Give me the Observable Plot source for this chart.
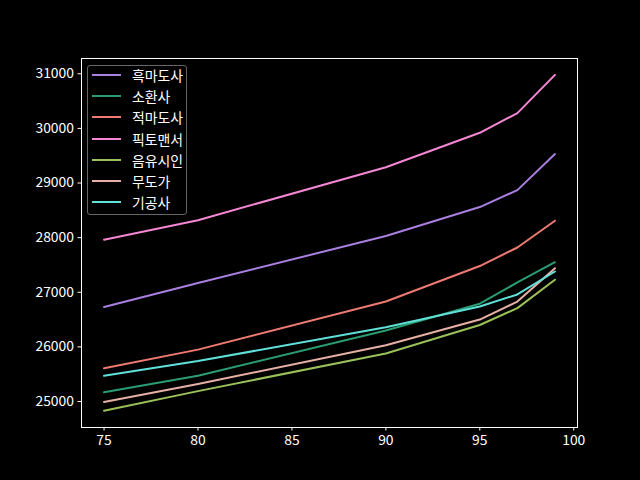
<!DOCTYPE html>
<html>
<head>
<meta charset="utf-8">
<script src="https://cdn.jsdelivr.net/npm/d3@7"></script>
<script src="https://cdn.jsdelivr.net/npm/@observablehq/plot@0.6"></script>
<style>
  html, body { margin: 0; padding: 0; background: #000; }
  #wrap { position: relative; width: 640px; height: 480px; background: #000; }
  #legend {
    position: absolute; left: 87px; top: 65px; width: 100px; height: 150px;
    border: 1px solid #666; border-radius: 3px; background: rgba(0,0,0,0.8);
    font-family: "Noto Sans CJK KR", "Noto Sans", sans-serif; font-size: 13.9px; color: #fff;
    box-sizing: border-box;
  }
  .row { position: absolute; left: 0; display: flex; align-items: center; height: 20px; }
  .sw { width: 29px; height: 2px; margin-left: 4px; margin-right: 11px; }
</style>
</head>
<body>
<div id="wrap"></div>
<script>
const xs = [75, 80, 90, 95, 97, 99];
const classes = ["흑마도사", "소환사", "적마도사", "픽토맨서", "음유시인", "무도가", "기공사"];
const colors = ["#a97fe0", "#2a9d73", "#ef7a72", "#f587d5", "#9bc159", "#e7b0a5", "#5fe0d9"];
const v흑마도사 = [26730, 27170, 28030, 28560, 28870, 29530];
const v소환사 = [25170, 25470, 26300, 26790, 27180, 27550];
const v적마도사 = [25610, 25950, 26830, 27480, 27820, 28310];
const v픽토맨서 = [27960, 28320, 29290, 29920, 30280, 30980];
const v음유시인 = [24830, 25190, 25880, 26400, 26710, 27230];
const v무도가 = [24990, 25320, 26030, 26500, 26830, 27440];
const v기공사 = [25470, 25740, 26360, 26740, 26960, 27380];
const series = [v흑마도사, v소환사, v적마도사, v픽토맨서, v음유시인, v무도가, v기공사];
const xTicks = [75, 80, 85, 90, 95, 100];
const yTicks = [25000, 26000, 27000, 28000, 29000, 30000, 31000];

const data = [];
classes.forEach((c, i) => xs.forEach((x, j) => data.push({cls: c, x, y: series[i][j]})));

const chart = Plot.plot({
  width: 640, height: 480,
  marginLeft: 81, marginRight: 63, marginTop: 58, marginBottom: 53,
  style: {background: "#000", color: "#fff", fontFamily: "'Noto Sans CJK KR', 'Noto Sans', sans-serif", fontSize: "13.9px"},
  x: {domain: [73.8, 100.2], ticks: xTicks, tickFormat: "d", tickSize: 3.5, tickPadding: 4, label: null},
  y: {domain: [24524, 31280], ticks: yTicks, tickFormat: "d", tickSize: 3.5, tickPadding: 4, label: null},
  color: {domain: classes, range: colors},
  marks: [
    Plot.line(data, {x: "x", y: "y", z: "cls", stroke: "cls", strokeWidth: 2}),
    Plot.frame({stroke: "#fff", strokeWidth: 1})
  ]
});
const wrap = document.getElementById("wrap");
wrap.appendChild(chart);

const legend = document.createElement("div");
legend.id = "legend";
classes.forEach((c, i) => {
  const row = document.createElement("div");
  row.className = "row";
  row.style.top = (-1 + i * 21.2) + "px";
  const sw = document.createElement("div");
  sw.className = "sw";
  sw.style.background = colors[i];
  const t = document.createElement("span");
  t.textContent = c;
  row.appendChild(sw); row.appendChild(t);
  legend.appendChild(row);
});
wrap.appendChild(legend);
</script>
</body>
</html>
